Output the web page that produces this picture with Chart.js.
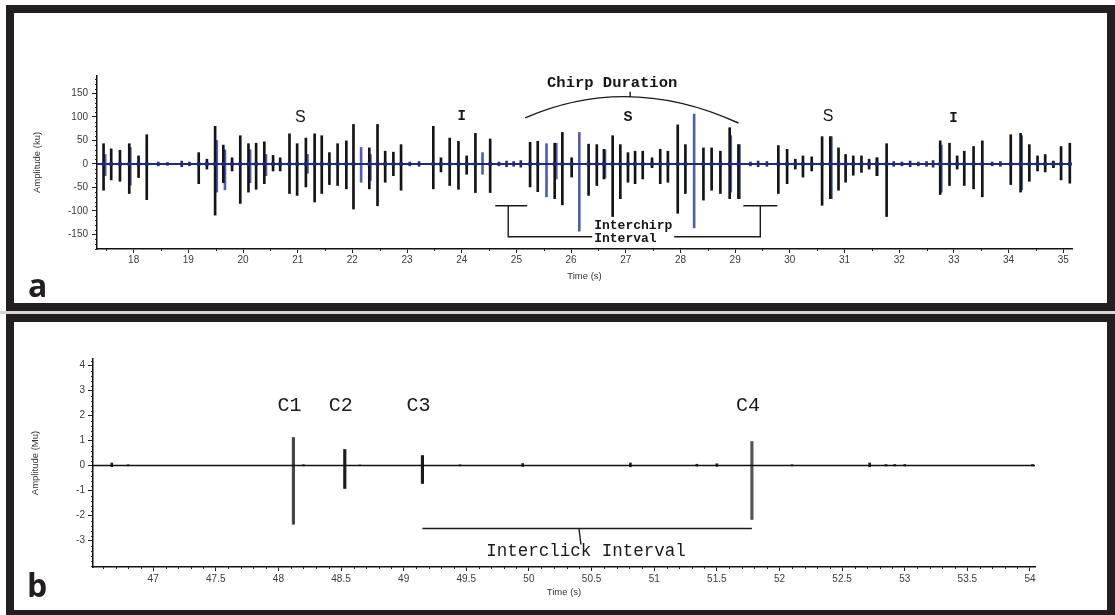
<!DOCTYPE html>
<html>
<head>
<meta charset="utf-8">
<title>Chirp and click structure</title>
<script src="https://cdn.jsdelivr.net/npm/chart.js@4.4.1/dist/chart.umd.min.js"></script>
<style>
    html, body { margin: 0; padding: 0; background: #fff; overflow: hidden; }
    body { width: 1115px; height: 615px; position: relative; }
    .frame { position: absolute; left: 6px; width: 1109px; border: 8px solid #231f20; box-sizing: border-box; background: #fff; }
    #frame-a { top: 5px; height: 306px; }
    #frame-b { top: 314px; height: 304px; }
    .gap { position: absolute; left: 0; top: 311px; width: 1115px; height: 3px; background: #d6d6d6; }
    .frame canvas { position: absolute; left: 0; top: 0; }
</style>
</head>
<body>
<div class="frame" id="frame-a"><canvas id="chirp-chart" width="1093" height="290"></canvas></div>
<div class="gap"></div>
<div class="frame" id="frame-b"><canvas id="click-chart" width="1093" height="288"></canvas></div>
<script>
// ---- Panel a: chirp sequence, time (s) vs amplitude (ku) ----
const chirpTimeSpan = [17.33, 35.16];
const chirpAmpSpan = [-181, 187];
const chirpTimeTicks = [18, 19, 20, 21, 22, 23, 24, 25, 26, 27, 28, 29, 30, 31, 32, 33, 34, 35];
const chirpAmpTicks = [-150, -100, -50, 0, 50, 100, 150];

// main (black) clicks
const chirpTimes = [
    17.45, 17.59, 17.75, 17.92, 18.09, 18.24,
    19.19, 19.34, 19.49, 19.64, 19.80, 19.95, 20.10, 20.24, 20.39, 20.55, 20.68, 20.85, 20.99, 21.15, 21.31, 21.44, 21.58, 21.73, 21.89, 22.02, 22.31, 22.46, 22.60, 22.75, 22.89,
    23.48, 23.62, 23.78, 23.94, 24.09, 24.25, 24.52,
    25.25, 25.39, 25.70, 25.84, 26.01, 26.32, 26.47, 26.60, 26.76, 26.90, 27.04, 27.17, 27.31, 27.48, 27.63, 27.77, 27.95, 28.09, 28.42, 28.57, 28.73, 28.90, 29.06,
    29.79, 29.95, 30.10, 30.24, 30.40, 30.59, 30.74, 30.89, 31.02, 31.16, 31.31, 31.45, 31.59, 31.77,
    32.75, 32.92, 33.06, 33.19, 33.36, 33.52,
    34.04, 34.22, 34.38, 34.53, 34.67, 34.82, 34.96, 35.12
];
const chirpPeaks = [
    43, 32, 29, 43, 17, 62,
    24, 10, 80, 40, 13, 60, 43, 44, 47, 18, 13, 64, 43, 55, 64, 60, 24, 43, 49, 84, 34, 84, 27, 25, 41,
    80, 13, 55, 48, 17, 65, 53,
    46, 48, 44, 67, 13, 42, 41, 31, 60, 41, 24, 27, 27, 13, 31, 27, 83, 41, 34, 34, 27, 77, 41,
    39, 31, 10, 17, 15, 58, 58, 34, 20, 17, 17, 10, 13, 43,
    49, 44, 17, 27, 37, 49,
    62, 65, 41, 17, 20, 6, 37, 44
];
const chirpTroughs = [
    -56, -34, -37, -63, -29, -76,
    -42, -11, -109, -40, -15, -84, -60, -54, -42, -15, -15, -63, -67, -49, -81, -63, -44, -46, -53, -96, -53, -89, -39, -25, -56,
    -53, -17, -46, -54, -22, -61, -61,
    -49, -59, -74, -87, -28, -67, -46, -32, -112, -74, -39, -42, -32, -8, -42, -39, -105, -63, -77, -56, -63, -74, -74,
    -63, -42, -11, -28, -15, -88, -74, -56, -39, -24, -18, -11, -25, -112,
    -65, -46, -11, -46, -53, -70,
    -44, -60, -37, -15, -17, -8, -34, -41
];

// second channel (blue) clicks
const echoTimes = [17.48, 17.94, 19.52, 19.67, 20.13, 20.42, 21.18, 22.16, 22.33, 24.38, 25.55, 25.73, 26.15, 26.62, 28.25, 28.92, 29.08, 30.76, 31.60, 32.77, 34.24];
const echoPeaks = [20, 35, 50, 30, 30, 20, 20, 35, 20, 24, 43, 44, 67, 30, 106, 60, 41, 58, 13, 40, 60];
const echoTroughs = [-25, -45, -60, -55, -40, -25, -20, -39, -35, -22, -70, -32, -143, -30, -136, -60, -74, -74, -25, -60, -55];

// low-level ripples between chirps
const rippleTimes = [18.45, 18.62, 18.88, 19.02, 23.05, 23.22, 24.68, 24.82, 24.95, 25.08, 29.28, 29.42, 29.58, 31.90, 32.05, 32.20, 32.35, 32.50, 32.62, 33.70, 33.85];
const rippleAmps = [4, 3, 6, 4, 4, 5, 4, 6, 5, 7, 4, 6, 5, 5, 4, 6, 4, 5, 7, 4, 5];

// phase marks above the trace (S / I)
const phaseLabels = ['S', 'I', 'S', 'S', 'I'];
const phaseTimes = [21.05, 24.0, 27.04, 30.70, 32.99];
const phaseAmps = [98, 100, 100, 100, 96];

// chirp duration arc: start, apex, end (time, amplitude)
const durationArc = [[25.16, 98], [27.08, 143], [29.06, 87]];
// interchirp bracket: left edge, right edge, bracket top / bottom amplitude
const interchirpEdges = [24.85, 29.46];
const interchirpLevels = [-89, -155];

// ---- Panel b: click train, time (s) vs amplitude (Mu) ----
const clickTimeSpan = [46.52, 54.04];
const clickAmpSpan = [-4.06, 4.26];
const clickTimeTicks = [47, 47.5, 48, 48.5, 49, 49.5, 50, 50.5, 51, 51.5, 52, 52.5, 53, 53.5, 54];
const clickAmpTicks = [-3, -2, -1, 0, 1, 2, 3, 4];

const clickNames = ['C1', 'C2', 'C3', 'C4'];
const clickTimes = [48.12, 48.53, 49.15, 51.78];
const clickPeaks = [1.12, 0.64, 0.40, 0.96];
const clickTroughs = [-2.35, -0.92, -0.72, -2.16];

const blipTimes = [46.67, 46.80, 48.20, 48.65, 49.45, 49.95, 50.81, 51.34, 51.50, 52.10, 52.72, 52.85, 52.92, 53.00, 54.02];
const blipAmps = [0.10, 0.03, 0.03, 0.02, 0.03, 0.08, 0.10, 0.05, 0.07, 0.03, 0.10, 0.04, 0.04, 0.04, 0.04];

// interclick bracket runs from C3 to C4
const interclickLevel = -2.52;

const TICK_FONT = { family: 'Liberation Sans', size: 10 };
const MONO = '"Liberation Mono", "DejaVu Sans Mono", monospace';

function spikes(times, highs, lows) {
    return times.map((t, i) => ({ x: t, y: [lows[i], highs[i]] }));
}

function baseline(span) {
    return [{ x: span[0], y: 0 }, { x: span[1], y: 0 }];
}

// Small unlabeled ticks between the labeled ones
const minorTicks = {
    id: 'minorTicks',
    afterDraw(chart, args, opts) {
        const { ctx, chartArea } = chart;
        ctx.save();
        ctx.strokeStyle = '#222';
        ctx.lineWidth = 1;
        ['x', 'y'].forEach(id => {
            const scale = chart.scales[id];
            const step = opts[id];
            if (!step) return;
            const majors = scale.ticks.map(t => t.value);
            const first = Math.ceil(scale.min / step);
            const last = Math.floor(scale.max / step);
            for (let n = first; n <= last; n++) {
                const v = n * step;
                if (majors.some(m => Math.abs(m - v) < step / 10)) continue;
                const p = Math.round(scale.getPixelForValue(v)) + 0.5;
                ctx.beginPath();
                if (id === 'x') {
                    ctx.moveTo(p, chartArea.bottom);
                    ctx.lineTo(p, chartArea.bottom + opts.length);
                } else {
                    ctx.moveTo(chartArea.left, p);
                    ctx.lineTo(chartArea.left - opts.length, p);
                }
                ctx.stroke();
            }
        });
        ctx.restore();
    }
};

function axisOptions(span, ticks, size, title, titlePad, tickLength, tickPad) {
    return {
        type: 'linear',
        min: span[0],
        max: span[1],
        offset: false,
        afterBuildTicks: scale => { scale.ticks = ticks.map(value => ({ value })); },
        afterFit: scale => {
            if (scale.isHorizontal()) scale.height = size;
            else scale.width = size;
        },
        grid: { display: true, drawOnChartArea: false, offset: false, tickLength, tickColor: '#222', tickWidth: 1 },
        border: { display: true, color: '#111', width: 1.5 },
        ticks: { font: TICK_FONT, color: '#3a3a3a', padding: tickPad, autoSkip: false, maxRotation: 0, callback: v => String(v) },
        title: { display: true, text: title, color: '#333', font: { family: 'Liberation Sans', size: 9.5 }, padding: titlePad }
    };
}

function panelTag(ctx, letter, x, y) {
    ctx.save();
    ctx.fillStyle = '#231f20';
    ctx.font = 'bold 32px "Open Sans"';
    ctx.textAlign = 'left';
    ctx.textBaseline = 'alphabetic';
    ctx.fillText(letter, x, y);
    ctx.restore();
}

const chirpNotes = {
    id: 'chirpNotes',
    afterDraw(chart) {
        const { ctx } = chart;
        const px = t => chart.scales.x.getPixelForValue(t);
        const py = a => chart.scales.y.getPixelForValue(a);
        ctx.save();
        ctx.fillStyle = '#151515';
        ctx.strokeStyle = '#1a1a1a';
        ctx.textAlign = 'center';
        ctx.textBaseline = 'middle';

        const sansMarks = [0, 3];
        phaseLabels.forEach((txt, i) => {
            if (sansMarks.includes(i)) ctx.font = '16px "Liberation Sans"';
            else ctx.font = `bold ${txt === 'I' ? 14 : 15}px ${MONO}`;
            ctx.fillText(txt, px(phaseTimes[i]), py(phaseAmps[i]));
        });

        // chirp duration arc through its apex
        const [s, m, e] = durationArc.map(([t, a]) => [px(t), py(a)]);
        const cx = 2 * m[0] - (s[0] + e[0]) / 2;
        const cy = 2 * m[1] - (s[1] + e[1]) / 2;
        ctx.lineWidth = 1.4;
        ctx.beginPath();
        ctx.moveTo(s[0], s[1]);
        ctx.quadraticCurveTo(cx, cy, e[0], e[1]);
        ctx.moveTo(m[0], m[1]);
        ctx.lineTo(m[0], m[1] - 5);
        ctx.stroke();
        ctx.font = `bold 15.5px ${MONO}`;
        ctx.fillText('Chirp Duration', m[0] - 18, m[1] - 14);

        // interchirp bracket, broken around its label
        const [l, r] = interchirpEdges.map(px);
        const top = py(interchirpLevels[0]);
        const bot = py(interchirpLevels[1]);
        ctx.font = `bold 13px ${MONO}`;
        const textLeft = l + 86;
        const textRight = textLeft + ctx.measureText('Interchirp').width + 2;
        ctx.beginPath();
        ctx.moveTo(l - 13, top); ctx.lineTo(l + 19, top);
        ctx.moveTo(l, top); ctx.lineTo(l, bot); ctx.lineTo(textLeft - 2, bot);
        ctx.moveTo(textRight, bot); ctx.lineTo(r, bot); ctx.lineTo(r, top);
        ctx.moveTo(r - 17, top); ctx.lineTo(r + 17, top);
        ctx.stroke();
        ctx.textAlign = 'left';
        ctx.fillText('Interchirp', textLeft, bot - 11);
        ctx.fillText('Interval', textLeft, bot + 2);

        panelTag(ctx, 'a', 14, 284);
        ctx.restore();
    }
};

const clickNotes = {
    id: 'clickNotes',
    afterDraw(chart) {
        const { ctx } = chart;
        const px = t => chart.scales.x.getPixelForValue(t);
        const py = a => chart.scales.y.getPixelForValue(a);
        ctx.save();
        ctx.fillStyle = '#1a1a1a';
        ctx.strokeStyle = '#1a1a1a';
        ctx.textAlign = 'center';
        ctx.textBaseline = 'middle';
        ctx.font = `20px ${MONO}`;
        clickNames.forEach((name, i) => {
            ctx.fillText(name, px(clickTimes[i]) - 4, py(2.4));
        });

        // interclick bracket between C3 and C4
        const l = px(clickTimes[2]);
        const r = px(clickTimes[3]);
        const y = py(interclickLevel);
        const mid = l + (r - l) * 0.475;
        ctx.lineWidth = 1.4;
        ctx.beginPath();
        ctx.moveTo(l, y); ctx.lineTo(r, y);
        ctx.moveTo(mid, y); ctx.lineTo(mid + 2, y + 16);
        ctx.stroke();
        ctx.font = `17.5px ${MONO}`;
        ctx.fillText('Interclick Interval', mid + 7, y + 23);

        panelTag(ctx, 'b', 13, 275);
        ctx.restore();
    }
};

new Chart(document.getElementById('chirp-chart'), {
    type: 'bar',
    data: {
        datasets: [
            { type: 'line', data: baseline(chirpTimeSpan), borderColor: '#1f2a7a', borderWidth: 2, pointRadius: 0, order: 0 },
            { type: 'scatter', data: chirpTimes.map(t => ({ x: t, y: 0 })), pointRadius: 2.2, pointBackgroundColor: '#1a237e', pointBorderWidth: 0, order: 1 },
            { data: spikes(chirpTimes, chirpPeaks, chirpTroughs), backgroundColor: '#141414', barThickness: 2, order: 2 },
            { data: spikes(echoTimes, echoPeaks, echoTroughs), backgroundColor: 'rgba(52, 66, 158, 0.85)', barThickness: 2, order: 3 },
            { data: spikes(rippleTimes, rippleAmps, rippleAmps.map(a => -a)), backgroundColor: '#1f2a7a', barThickness: 2, order: 4 }
        ]
    },
    options: {
        responsive: false,
        animation: false,
        events: [],
        datasets: { bar: { grouped: false, borderWidth: 0 } },
        layout: { padding: { left: 0, right: 35, top: 63, bottom: 0 } },
        plugins: { legend: { display: false }, tooltip: { enabled: false }, minorTicks: { x: 0.5, y: 10, length: 2 } },
        scales: {
            x: axisOptions(chirpTimeSpan, chirpTimeTicks, 54, 'Time (s)', { top: 0, bottom: 21 }, 4, 1),
            y: axisOptions(chirpAmpSpan, chirpAmpTicks, 83, 'Amplitude (ku)', { top: 17.5, bottom: 0 }, 5, 4)
        }
    },
    plugins: [minorTicks, chirpNotes]
});

new Chart(document.getElementById('click-chart'), {
    type: 'bar',
    data: {
        datasets: [
            { type: 'line', data: baseline(clickTimeSpan), borderColor: '#111', borderWidth: 1.5, pointRadius: 0, order: 0 },
            { data: spikes(clickTimes, clickPeaks, clickTroughs), backgroundColor: ['#464646', '#1a1a1a', '#1a1a1a', '#555'], barThickness: 2.5, order: 1 },
            { data: spikes(blipTimes, blipAmps, blipAmps.map(a => -a / 2)), backgroundColor: '#222', barThickness: 2, order: 2 }
        ]
    },
    options: {
        responsive: false,
        animation: false,
        events: [],
        datasets: { bar: { grouped: false, borderWidth: 0 } },
        layout: { padding: { left: 0, right: 72, top: 37, bottom: 0 } },
        plugins: { legend: { display: false }, tooltip: { enabled: false }, minorTicks: { x: 0.1, y: 0.2, length: 2 } },
        scales: {
            x: axisOptions(clickTimeSpan, clickTimeTicks, 43, 'Time (s)', { top: 0, bottom: 12 }, 4, 2),
            y: axisOptions(clickAmpSpan, clickAmpTicks, 79, 'Amplitude (Mu)', { top: 15.5, bottom: 0 }, 5, 3)
        }
    },
    plugins: [minorTicks, clickNotes]
});
</script>
</body>
</html>
